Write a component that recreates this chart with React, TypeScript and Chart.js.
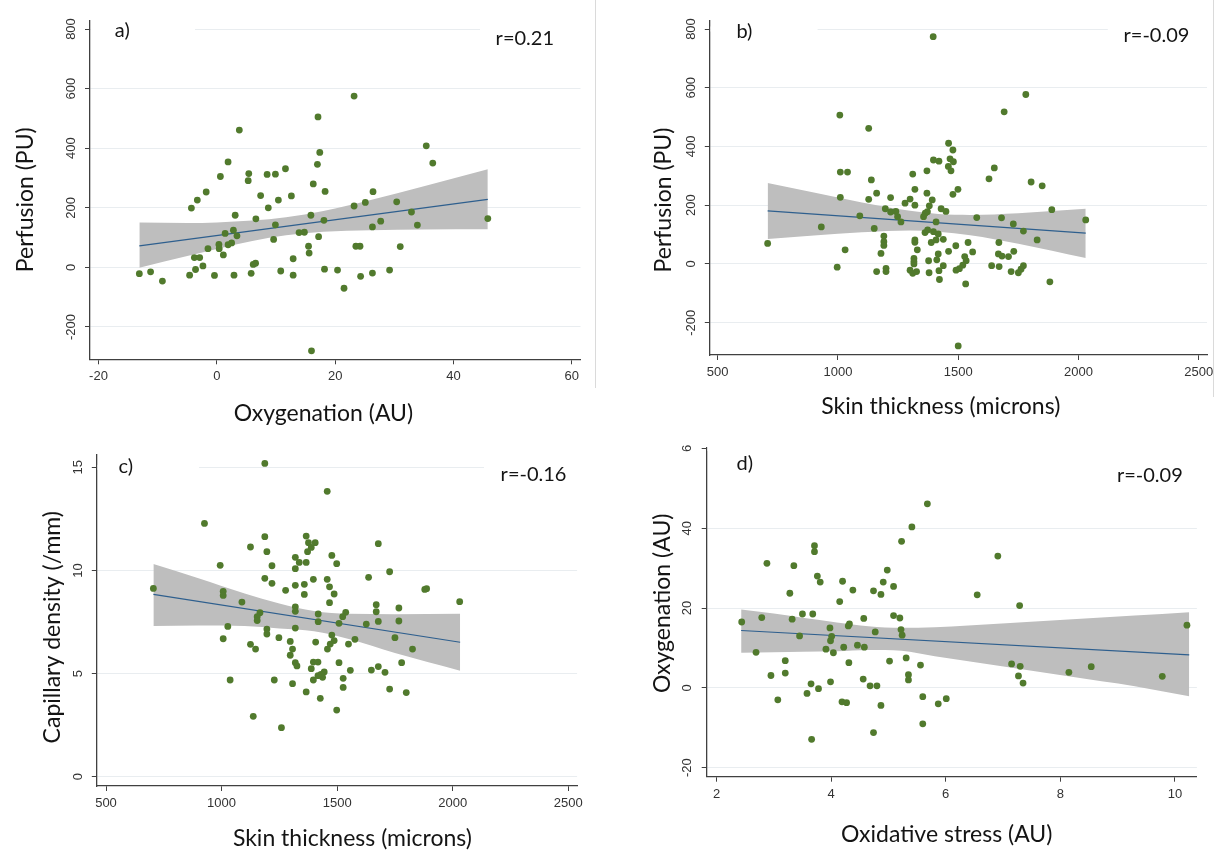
import React, { useEffect, useRef } from "react";
import { Chart, registerables } from "chart.js";

Chart.register(...registerables);

// ---------------- Panel a: Perfusion vs Oxygenation ----------------
const aOxygenation = [
  -13.1, -11.2, -9.2, -4.6, -4.3, -3.8, -3.6, -3.3, -2.9, -2.35,
  -1.8, -1.5, -0.4, 0.35, 0.4, 0.6, 1.1, 1.4, 1.9, 1.9,
  2.5, 2.8, 2.9, 3.1, 3.4, 3.8, 5.4, 5.3, 5.8, 6.15,
  6.55, 6.6, 7.4, 8.5, 8.7, 9.6, 9.9, 9.9, 10.4, 10.8,
  11.6, 12.6, 12.9, 12.9, 13.9, 14.8, 15.5, 15.6, 15.9, 16.0,
  16.3, 17.0, 17.1, 17.2, 17.4, 18.1, 18.2, 18.3, 20.4, 21.5,
  23.2, 23.2, 23.5, 24.2, 24.3, 25.1, 26.3, 26.3, 26.4, 27.7,
  29.2, 30.4, 31.0, 32.9, 33.9, 35.4, 36.5, 45.8,
];
const aPerfusion = [
  -21, -15, -46, -26, 199, 33, -7, 226, 33, 5,
  253, 63, -27, 77, 63, 305, 42, 114, 354, 76,
  82, 125, -26, 175, 106, 461, 315, 291, -20, 10,
  14, 163, 241, 312, 200, 94, 313, 143, 226, -12,
  331, 240, -26, 29, 117, 118, 71, 48, 175, -280,
  280, 346, 505, 103, 386, 158, -6, 255, -9, -70,
  575, 206, 71, 71, -30, 218, -19, 136, 254, 155,
  -9, 220, 70, 186, 142, 408, 350, 164,
];
const aFitX = [-13.1, 45.8];
const aFitY = [72, 228];
const aBandX = [-13.1, -5, 0, 6, 11.7, 18, 26, 35, 45.8];
const aBandUpper = [151, 149, 151, 157, 168, 189, 226, 272, 329];
const aBandLower = [-1, 38, 62, 89, 108, 120, 125, 127, 128];
const aXTicks = [-20, 0, 20, 40, 60];
const aXTickLabels = ["-20", "0", "20", "40", "60"];
const aYTicks = [-200, 0, 200, 400, 600, 800];
const aYTickLabels = ["-200", "0", "200", "400", "600", "800"];

// ---------------- Panel b: Perfusion vs Skin thickness ----------------
const bSkinThickness = [
  1008, 1128, 1781, 1691, 1460, 1478, 1397, 1420, 1466, 1480,
  1459, 1470, 1010, 1040, 1370, 1311, 1650, 1628, 1139, 1803,
  1849, 1499, 1478, 1320, 1370, 1161, 1010, 1128, 1219, 1300,
  1279, 1320, 1392, 1380, 1197, 1219, 1241, 1372, 1429, 1449,
  1889, 1248, 1363, 1356, 1091, 1262, 931, 1577, 1680, 1729,
  1408, 1151, 1771, 1362, 1373, 1397, 1417, 1191, 1438, 1388,
  1408, 1191, 1191, 1828, 1320, 1320, 708, 1030, 1330, 1490,
  1541, 1669, 1179, 1460, 1560, 1417, 1527, 1731, 1667, 1709,
  1682, 1316, 1316, 1316, 1377, 1411, 1533, 1438, 1519, 997,
  1639, 1670, 1771, 1761, 1200, 1200, 1161, 1300, 1311, 1327,
  1379, 1420, 1491, 1505, 1720, 1750, 1422, 1531, 1881, 1396,
  1500, 2030,
];
const bPerfusion = [
  507, 462, 577, 518, 411, 388, 354, 350, 358, 348,
  332, 317, 313, 313, 317, 306, 327, 290, 286, 279,
  266, 254, 237, 254, 241, 241, 227, 220, 226, 221,
  207, 200, 218, 198, 188, 177, 179, 178, 188, 179,
  185, 161, 173, 161, 164, 143, 126, 158, 157, 136,
  143, 121, 112, 107, 116, 110, 102, 95, 84, 73,
  82, 76, 63, 82, 82, 74, 70, 48, 48, 62,
  73, 73, 36, 43, 41, 34, 25, 43, 34, 25,
  27, 19, 8, 0, 11, 14, 11, -6, -4, -11,
  -6, -9, -6, -18, -15, -26, -26, -21, -32, -26,
  -30, -23, -21, -16, -26, -30, -53, -68, -61, 774,
  -279, 150,
];
const bFitX = [708, 2030];
const bFitY = [181, 105];
const bBandX = [708, 900, 1100, 1300, 1417, 1550, 1750, 2030];
const bBandUpper = [276, 243, 209, 181, 170, 167, 173, 188];
const bBandLower = [85, 97, 108, 114, 110, 98, 69, 20];
const bXTicks = [500, 1000, 1500, 2000, 2500];
const bXTickLabels = ["500", "1000", "1500", "2000", "2500"];
const bYTicks = [-200, 0, 200, 400, 600, 800];
const bYTickLabels = ["-200", "0", "200", "400", "600", "800"];

// ---------------- Panel c: Capillary density vs Skin thickness ----------------
const cSkinThickness = [
  1457, 926, 1187, 1366, 1376, 1405, 1388, 1372, 1678, 1125,
  1196, 1319, 1336, 1366, 1477, 1498, 994, 1218, 1319, 1727,
  1187, 1218, 1397, 1457, 1636, 1319, 1358, 1277, 1467, 1358,
  1487, 1879, 1887, 2030, 1007, 1007, 1088, 1467, 1319, 1319,
  1669, 1669, 1767, 1166, 1537, 1418, 1524, 1154, 1154, 1418,
  1508, 1626, 1678, 1767, 1027, 1319, 1196, 1196, 1007, 1248,
  1297, 1407, 1477, 1487, 1470, 1458, 1549, 1577, 1750, 1125,
  1147, 1307, 1297, 1826, 1319, 1326, 1397, 1417, 1508, 1388,
  1779, 1678, 1648, 1707, 1557, 1444, 1430, 1437, 1417, 1397,
  1526, 1037, 1228, 1307, 1526, 1366, 1727, 1799, 1427, 1498,
  1137, 1259, 1187, 705,
];
const cCapillaryDensity = [
  13.84, 12.28, 11.64, 11.67, 11.35, 11.35, 11.12, 10.91, 11.3, 11.14,
  10.91, 10.64, 10.39, 10.39, 10.73, 10.33, 10.25, 10.23, 10.09, 9.94,
  9.62, 9.38, 9.57, 9.57, 9.67, 9.28, 9.33, 9.04, 9.21, 8.84,
  8.86, 9.08, 9.12, 8.49, 8.99, 8.79, 8.47, 8.44, 8.24, 8.02,
  8.34, 8.0, 8.18, 7.95, 7.97, 7.89, 7.76, 7.76, 7.57, 7.52,
  7.44, 7.4, 7.53, 7.55, 7.29, 7.21, 7.16, 6.92, 6.69, 6.74,
  6.56, 6.53, 6.87, 6.6, 6.43, 6.19, 6.43, 6.66, 6.74, 6.42,
  6.19, 6.19, 5.89, 6.19, 5.53, 5.37, 5.56, 5.56, 5.53, 5.24,
  5.53, 5.34, 5.17, 5.06, 5.16, 5.08, 4.96, 4.82, 4.9, 4.69,
  4.77, 4.69, 4.69, 4.51, 4.33, 4.11, 4.25, 4.08, 3.8, 3.23,
  2.93, 2.38, 15.19, 9.13,
];
const cFitX = [705, 2032];
const cFitY = [8.84, 6.52];
const cBandX = [705, 900, 1100, 1250, 1400, 1550, 1750, 2032];
const cBandUpper = [10.31, 9.62, 8.88, 8.4, 8.04, 7.9, 7.88, 7.9];
const cBandLower = [7.31, 7.33, 7.31, 7.19, 7.05, 6.68, 6.0, 5.14];
const cXTicks = [500, 1000, 1500, 2000, 2500];
const cXTickLabels = ["500", "1000", "1500", "2000", "2500"];
const cYTicks = [0, 5, 10, 15];
const cYTickLabels = ["0", "5", "10", "15"];

// ---------------- Panel d: Oxygenation vs Oxidative stress ----------------
const dOxidativeStress = [
  2.44, 2.69, 2.79, 2.88, 2.95, 3.07, 3.2, 3.2, 3.28, 3.32,
  3.35, 3.45, 3.5, 3.58, 3.66, 3.65, 3.68, 3.71, 3.71, 3.76,
  3.81, 3.78, 3.91, 3.98, 3.99, 4.01, 3.99, 4.04, 4.15, 4.19,
  4.2, 4.22, 4.27, 4.3, 4.32, 4.31, 4.38, 4.46, 4.57, 4.56,
  4.58, 4.68, 4.74, 4.74, 4.77, 4.8, 4.87, 4.87, 4.91, 4.98,
  5.02, 5.09, 5.09, 5.2, 5.23, 5.22, 5.24, 5.31, 5.35, 5.35,
  5.41, 5.56, 5.6, 5.6, 5.68, 5.87, 6.01, 6.55, 6.91, 7.15,
  7.27, 7.29, 7.3, 7.35, 8.15, 8.54, 9.78, 10.21,
];
const dOxygenation = [
  16.5, 8.9, 17.6, 31.2, 3.1, -3.0, 6.8, 3.7, 23.7, 17.2,
  30.6, 13.0, 18.5, -1.4, -12.9, 1.0, 18.5, 35.6, 34.1, 28.0,
  26.5, -0.2, 9.7, 15.0, 11.8, 12.9, 1.5, 8.8, 21.6, -3.5,
  26.7, 10.2, -3.7, 15.5, 16.0, 6.3, 24.5, 10.7, 17.4, 2.2,
  10.2, 0.5, 24.3, -11.2, 14.0, 0.5, 23.4, -4.4, 26.5, 29.5,
  6.7, 25.4, 18.1, 17.5, 36.7, 14.6, 13.2, 7.5, 3.3, 2.0,
  40.3, 5.7, -2.2, -9.0, 46.1, -4.0, -2.7, 23.3, 33.0, 6.0,
  3.0, 20.6, 5.4, 1.2, 3.9, 5.3, 2.9, 15.7,
];
const dFitX = [2.43, 10.25];
const dFitY = [14.37, 8.27];
const dBandX = [2.43, 3.0, 3.5, 4.1, 4.65, 5.23, 5.81, 6.98, 8.14, 9.3, 10.25];
const dBandUpper = [19.63, 18.6, 17.54, 16.4, 15.45, 15.03, 15.2, 16.12, 17.12, 18.13, 18.96];
const dBandLower = [8.77, 8.9, 9.05, 9.19, 9.5, 9.3, 7.93, 5.43, 2.92, 0.41, -2.09];
const dXTicks = [2, 4, 6, 8, 10];
const dXTickLabels = ["2", "4", "6", "8", "10"];
const dYTicks = [-20, 0, 20, 40, 60];
const dYTickLabels = ["-20", "0", "20", "40", "6"];

// ---------------- styling ----------------
const POINT_COLOR = "#517a2d";
const FIT_COLOR = "#2e5f8e";
const BAND_COLOR = "#bebebe";
const GRID_COLOR = "#e9edf0";
const AXIS_COLOR = "#404040";
const TICK_FONT = '"Liberation Sans", Arial, sans-serif';
const TITLE_FONT = "Lato, Carlito, 'Open Sans', sans-serif";

type Panel = {
  id: string;
  box: { left: number; top: number; width: number; height: number };
  area: { left: number; right: number; top: number; bottom: number };
  xRange: [number, number];
  yRange: [number, number];
  xs: number[];
  ys: number[];
  fitX: number[];
  fitY: number[];
  bandX: number[];
  bandUpper: number[];
  bandLower: number[];
  xTicks: number[];
  xTickLabels: string[];
  yTicks: number[];
  yTickLabels: string[];
  letter: string;
  letterPos: [number, number];
  rText: string;
  rPos: [number, number];
  xTitle: string;
  xTitlePos: [number, number];
  yTitle: string;
  yTitlePos: [number, number];
  gridHide: { value: number; ranges: [number, number][] }[];
  edge?: { x: number; y0: number; y1: number };
};

const PANELS: Panel[] = [
  {
    id: "a",
    box: { left: 0, top: 0, width: 600, height: 440 },
    area: { left: 90, right: 580.5, top: 20.7, bottom: 359.3 },
    xRange: [-21.44, 61.47],
    yRange: [-308.4, 827.9],
    xs: aOxygenation,
    ys: aPerfusion,
    fitX: aFitX,
    fitY: aFitY,
    bandX: aBandX,
    bandUpper: aBandUpper,
    bandLower: aBandLower,
    xTicks: aXTicks,
    xTickLabels: aXTickLabels,
    yTicks: aYTicks,
    yTickLabels: aYTickLabels,
    letter: "a)",
    letterPos: [114.8, 30.7],
    rText: "r=0.21",
    rPos: [495.6, 38.3],
    xTitle: "Oxygenation (AU)",
    xTitlePos: [323.4, 421],
    yTitle: "Perfusion (PU)",
    yTitlePos: [25.8, 199.7],
    gridHide: [{ value: 800, ranges: [[91, 195], [480, 581.5]] }],
    edge: { x: 595.5, y0: 0, y1: 388 },
  },
  {
    id: "b",
    box: { left: 600, top: 0, width: 615, height: 440 },
    area: { left: 109.8, right: 607, top: 20.7, bottom: 355 },
    xRange: [467.6, 2534],
    yRange: [-310, 828.3],
    xs: bSkinThickness,
    ys: bPerfusion,
    fitX: bFitX,
    fitY: bFitY,
    bandX: bBandX,
    bandUpper: bBandUpper,
    bandLower: bBandLower,
    xTicks: bXTicks,
    xTickLabels: bXTickLabels,
    yTicks: bYTicks,
    yTickLabels: bYTickLabels,
    letter: "b)",
    letterPos: [136.5, 31.7],
    rText: "r=-0.09",
    rPos: [523.5, 36],
    xTitle: "Skin thickness (microns)",
    xTitlePos: [340.8, 414],
    yTitle: "Perfusion (PU)",
    yTitlePos: [63.7, 200],
    gridHide: [{ value: 800, ranges: [[110.6, 217.6], [507.8, 608]] }],
    edge: { x: 613.5, y0: 0, y1: 397 },
  },
  {
    id: "c",
    box: { left: 0, top: 420, width: 600, height: 430 },
    area: { left: 96.8, right: 577.1, top: 35, bottom: 366 },
    xRange: [460.2, 2538],
    yRange: [-0.45, 15.6],
    xs: cSkinThickness,
    ys: cCapillaryDensity,
    fitX: cFitX,
    fitY: cFitY,
    bandX: cBandX,
    bandUpper: cBandUpper,
    bandLower: cBandLower,
    xTicks: cXTicks,
    xTickLabels: cXTickLabels,
    yTicks: cYTicks,
    yTickLabels: cYTickLabels,
    letter: "c)",
    letterPos: [118.6, 46.7],
    rText: "r=-0.16",
    rPos: [500.6, 55],
    xTitle: "Skin thickness (microns)",
    xTitlePos: [352.4, 426],
    yTitle: "Capillary density (/mm)",
    yTitlePos: [52.6, 207.2],
    gridHide: [{ value: 15, ranges: [[97.6, 199], [484, 578]] }],
  },
  {
    id: "d",
    box: { left: 600, top: 420, width: 615, height: 430 },
    area: { left: 106.7, right: 596.9, top: 27.3, bottom: 356.7 },
    xRange: [1.829, 10.384],
    yRange: [-22.25, 60.25],
    xs: dOxidativeStress,
    ys: dOxygenation,
    fitX: dFitX,
    fitY: dFitY,
    bandX: dBandX,
    bandUpper: dBandUpper,
    bandLower: dBandLower,
    xTicks: dXTicks,
    xTickLabels: dXTickLabels,
    yTicks: dYTicks,
    yTickLabels: dYTickLabels,
    letter: "d)",
    letterPos: [136.5, 43.3],
    rText: "r=-0.09",
    rPos: [516.9, 56],
    xTitle: "Oxidative stress (AU)",
    xTitlePos: [346.7, 422],
    yTitle: "Oxygenation (AU)",
    yTitlePos: [62.7, 183.3],
    gridHide: [{ value: 60, ranges: [[107.5, 598]] }],
  },
];

const toPoints = (xs: number[], ys: number[]) => xs.map((x, i) => ({ x, y: ys[i] }));

function PanelChart({ spec }: { spec: Panel }) {
  const ref = useRef<HTMLCanvasElement | null>(null);

  useEffect(() => {
    let chart: Chart | null = null;
    let cancelled = false;
    const { box, area } = spec;

    const decor = {
      id: "decor_" + spec.id,
      beforeDatasetsDraw(c: any) {
        const ctx = c.ctx;
        const ys = c.scales.y;
        ctx.save();
        ctx.fillStyle = "#ffffff";
        spec.gridHide.forEach((h) => {
          const py = ys.getPixelForValue(h.value);
          h.ranges.forEach(([x0, x1]) => ctx.fillRect(x0, py - 2.5, x1 - x0, 5));
        });
        ctx.restore();
      },
      afterDraw(c: any) {
        const ctx = c.ctx;
        const ys = c.scales.y;
        ctx.save();
        // y tick labels (rotated, Stata style)
        ctx.font = `13px ${TICK_FONT}`;
        ctx.fillStyle = "#333333";
        ctx.textAlign = "center";
        ctx.textBaseline = "middle";
        spec.yTicks.forEach((v, i) => {
          const py = ys.getPixelForValue(v);
          ctx.save();
          ctx.translate(c.chartArea.left - 18.8, py);
          ctx.rotate(-Math.PI / 2);
          ctx.fillText(spec.yTickLabels[i], 0, 0);
          ctx.restore();
        });
        // axis titles
        ctx.fillStyle = "#141414";
        ctx.font = `23px ${TITLE_FONT}`;
        ctx.textAlign = "center";
        ctx.textBaseline = "alphabetic";
        ctx.fillText(spec.xTitle, spec.xTitlePos[0], spec.xTitlePos[1]);
        ctx.save();
        ctx.translate(spec.yTitlePos[0], spec.yTitlePos[1]);
        ctx.rotate(-Math.PI / 2);
        ctx.textBaseline = "middle";
        ctx.fillText(spec.yTitle, 0, 0);
        ctx.restore();
        // panel letter and correlation
        ctx.font = `20px ${TITLE_FONT}`;
        ctx.textAlign = "left";
        ctx.textBaseline = "middle";
        ctx.fillText(spec.letter, spec.letterPos[0], spec.letterPos[1]);
        ctx.fillText(spec.rText, spec.rPos[0], spec.rPos[1]);
        // faint frame edge
        if (spec.edge) {
          ctx.strokeStyle = "#dadada";
          ctx.lineWidth = 1;
          ctx.beginPath();
          ctx.moveTo(spec.edge.x, spec.edge.y0);
          ctx.lineTo(spec.edge.x, spec.edge.y1);
          ctx.stroke();
        }
        ctx.restore();
      },
    };

    const build = () => {
      if (cancelled || !ref.current) return;
      chart = new Chart(ref.current, {
        type: "scatter",
        data: {
          datasets: [
            {
              type: "scatter",
              data: toPoints(spec.xs, spec.ys),
              pointRadius: 3.4,
              pointBackgroundColor: POINT_COLOR,
              pointBorderWidth: 0,
              pointBorderColor: POINT_COLOR,
              showLine: false,
            },
            {
              type: "line",
              data: toPoints(spec.fitX, spec.fitY),
              borderColor: FIT_COLOR,
              borderWidth: 1.2,
              pointRadius: 0,
              fill: false,
              tension: 0,
            },
            {
              type: "line",
              data: toPoints(spec.bandX, spec.bandUpper),
              borderColor: "rgba(0,0,0,0)",
              borderWidth: 0,
              backgroundColor: BAND_COLOR,
              pointRadius: 0,
              fill: "+1",
              cubicInterpolationMode: "monotone",
            },
            {
              type: "line",
              data: toPoints(spec.bandX, spec.bandLower),
              borderColor: "rgba(0,0,0,0)",
              borderWidth: 0,
              pointRadius: 0,
              fill: false,
              cubicInterpolationMode: "monotone",
            },
          ] as any,
        },
        options: {
          responsive: false,
          maintainAspectRatio: false,
          animation: false,
          events: [],
          layout: {
            padding: { left: 0, top: area.top, right: box.width - area.right, bottom: 0 },
          },
          plugins: {
            legend: { display: false },
            tooltip: { enabled: false },
            title: { display: false },
          },
          scales: {
            x: {
              type: "linear",
              position: "bottom",
              min: spec.xRange[0],
              max: spec.xRange[1],
              afterBuildTicks: (s: any) => {
                s.ticks = spec.xTicks.map((v) => ({ value: v }));
              },
              afterFit: (s: any) => {
                s.height = box.height - area.bottom;
                s.paddingLeft = 0;
                s.paddingRight = 0;
              },
              ticks: {
                autoSkip: false,
                maxRotation: 0,
                minRotation: 0,
                padding: 4.5,
                color: "#333333",
                font: { family: TICK_FONT, size: 13 },
                callback: (_v: any, i: number) => spec.xTickLabels[i] ?? "",
              },
              grid: {
                drawOnChartArea: false,
                drawTicks: true,
                tickLength: 5,
                tickColor: AXIS_COLOR,
                tickWidth: 1,
              },
              border: { display: true, color: AXIS_COLOR, width: 1.3 },
            },
            y: {
              type: "linear",
              position: "left",
              min: spec.yRange[0],
              max: spec.yRange[1],
              afterBuildTicks: (s: any) => {
                s.ticks = spec.yTicks.map((v) => ({ value: v }));
              },
              afterFit: (s: any) => {
                s.width = area.left;
                s.paddingTop = 0;
                s.paddingBottom = 0;
              },
              ticks: { display: false },
              grid: {
                drawOnChartArea: true,
                drawTicks: true,
                tickLength: 5,
                color: GRID_COLOR,
                lineWidth: 1,
                tickColor: AXIS_COLOR,
                tickWidth: 1,
              },
              border: { display: true, color: AXIS_COLOR, width: 1.3 },
            },
          },
        } as any,
        plugins: [decor],
      });
    };

    const fontLoads = ["23px Lato", "20px Lato", "13px 'Liberation Sans'"].map((f) =>
      (document as any).fonts ? (document as any).fonts.load(f).catch(() => null) : Promise.resolve(null)
    );
    Promise.all(fontLoads).then(build, build);

    return () => {
      cancelled = true;
      if (chart) chart.destroy();
      chart = null;
    };
  }, [spec]);

  return (
    <canvas
      ref={ref}
      width={spec.box.width}
      height={spec.box.height}
      style={{
        position: "absolute",
        left: spec.box.left,
        top: spec.box.top,
        width: spec.box.width,
        height: spec.box.height,
      }}
    />
  );
}

export default function App() {
  return (
    <div
      style={{
        position: "absolute",
        left: 0,
        top: 0,
        width: 1215,
        height: 850,
        background: "#ffffff",
        overflow: "hidden",
      }}
    >
      {PANELS.map((p) => (
        <PanelChart key={p.id} spec={p} />
      ))}
    </div>
  );
}
